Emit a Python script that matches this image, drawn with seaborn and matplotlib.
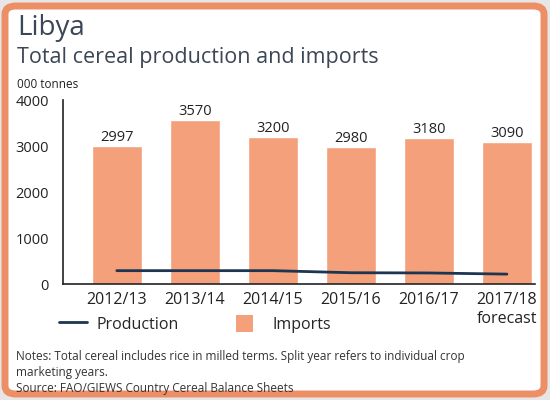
import matplotlib
matplotlib.use("Agg")
import matplotlib.pyplot as plt
from matplotlib.patches import FancyBboxPatch, Patch, Rectangle
from matplotlib.lines import Line2D
from matplotlib.legend_handler import HandlerPatch
import numpy as np
import pandas as pd
import seaborn as sns

# Libya cereal balance, thousand tonnes
seasons = ["2012/13", "2013/14", "2014/15", "2015/16", "2016/17", "2017/18\nforecast"]
imports = [2997, 3570, 3200, 2980, 3180, 3090]
production = [290, 290, 290, 245, 240, 215]
y_ticks = [0, 1000, 2000, 3000, 4000]

BAR = "#F4A07A"
LINE = "#1d3550"
FRAME = "#EC8F66"
TXT = "#3b4656"
DARK = "#222222"

sns.set_theme(style="white")
plt.rcParams["font.family"] = ["Open Sans", "DejaVu Sans"]

df = pd.DataFrame({"season": seasons, "imports": imports, "production": production})
df["pos"] = np.arange(len(df))

fig = plt.figure(figsize=(5.5, 4.0), dpi=100)
fig.patch.set_facecolor("#e6e6e6")

# rounded orange frame around the panel
frame = FancyBboxPatch((5 / 550, 6 / 400), 539 / 550, 388 / 400,
                       boxstyle="round,pad=0,rounding_size=0.02",
                       transform=fig.transFigure, facecolor="white",
                       edgecolor=FRAME, linewidth=5, zorder=-10)
fig.patches.append(frame)

ax = fig.add_axes([63 / 550, 1 - 284 / 400, (535 - 63) / 550, (284 - 100) / 400])
ax.set_facecolor("none")

sns.barplot(data=df, x="season", y="imports", color=BAR, width=0.64,
            saturation=1, ax=ax, zorder=2)
sns.lineplot(data=df, x="pos", y="production", color=LINE, linewidth=2,
             ax=ax, zorder=3, sort=False)

for i, v in enumerate(imports):
    ax.text(i, v + 20, f"{v}", ha="center", va="bottom", fontsize=10.5,
            color=DARK)

ax.set_ylim(0, 4000)
ax.set_xlim(-0.69, 5.36)
ax.set_yticks(y_ticks)
ax.set_yticklabels([str(t) for t in y_ticks], fontsize=10.5, color=DARK)
ax.tick_params(axis="x", labelsize=11.5, colors=DARK, length=0, pad=6)
ax.tick_params(axis="y", length=0, pad=10)
ax.set_xlabel("")
ax.set_ylabel("")
for s in ["top", "right"]:
    ax.spines[s].set_visible(False)
for s in ["left", "bottom"]:
    ax.spines[s].set_color(DARK)
    ax.spines[s].set_linewidth(1.2)

fig.text(17 / 550, 1 - 28 / 400, "Libya", fontsize=20, color=TXT, va="center")
fig.text(17 / 550, 1 - 58 / 400, "Total cereal production and imports",
         fontsize=15.5, color=TXT, va="center")
fig.text(17 / 550, 1 - 85 / 400, "000 tonnes", fontsize=8.5, color=DARK,
         va="center")


def square_patch(legend, orig_handle, xdescent, ydescent, width, height, fontsize):
    side = height * 1.05
    return Rectangle((-xdescent, -ydescent + (height - side) / 2), side, side)


handles = [Line2D([0], [0], color=LINE, lw=2),
           Patch(facecolor=BAR, edgecolor="none")]
fig.legend(handles, ["Production", "Imports"], ncol=2, frameon=False,
           loc="center left", bbox_to_anchor=(45 / 550, 1 - 324 / 400),
           fontsize=11.5, handlelength=1.7, handleheight=1.2,
           columnspacing=3.6, handletextpad=0.6,
           handler_map={Patch: HandlerPatch(patch_func=square_patch)})

notes = ("Notes: Total cereal includes rice in milled terms. Split year refers to individual crop\n"
         "marketing years.\n"
         "Source: FAO/GIEWS Country Cereal Balance Sheets")
fig.text(16 / 550, 1 - 350 / 400, notes, fontsize=8.5, color="#333333",
         va="top", linespacing=1.3)

fig.savefig("out.png", dpi=100, facecolor=fig.get_facecolor())
